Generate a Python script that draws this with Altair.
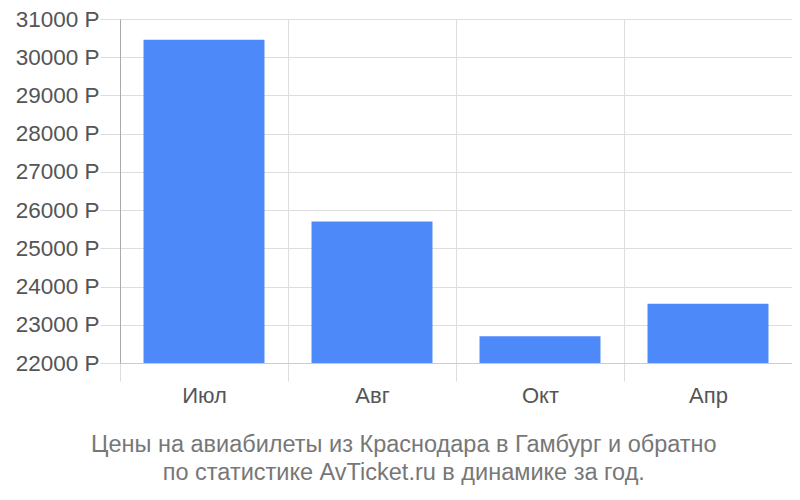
import altair as alt
import pandas as pd

months = ["Июл", "Авг", "Окт", "Апр"]
prices = [30460, 25700, 22700, 23550]
y_ticks = [22000, 23000, 24000, 25000, 26000, 27000, 28000, 29000, 30000, 31000]
title_lines = ["Цены на авиабилеты из Краснодара в Гамбург и обратно",
               "по статистике AvTicket.ru в динамике за год."]

df = pd.DataFrame({"month": months, "price": prices})

FONT = "Liberation Sans"

chart = alt.Chart(df).mark_bar(color="#4d89f9", width={"band": 0.72}).encode(
    x=alt.X("month:N", sort=months, title=None,
            scale=alt.Scale(paddingInner=0, paddingOuter=0),
            axis=alt.Axis(tickBand="extent", grid=True, gridColor="#dddddd",
                          tickColor="#dddddd", tickSize=18, domainColor="#cccccc",
                          labelAngle=0, labelFontSize=22, labelColor="#555555",
                          labelFont=FONT, labelPadding=4)),
    y=alt.Y("price:Q", title=None,
            scale=alt.Scale(domain=[22000, 31000], zero=False, nice=False),
            axis=alt.Axis(values=y_ticks, labelExpr="datum.value + ' Р'",
                          grid=True, gridColor="#dddddd", tickColor="#dddddd",
                          tickSize=20, domain=True, domainColor="#aaaaaa",
                          labelFontSize=22.5, labelColor="#555555", labelFont=FONT,
                          labelPadding=1)),
    y2=alt.datum(22000),
).properties(
    width=672, height=344,
    title=alt.TitleParams(text=title_lines, orient="bottom", anchor="middle",
                          frame="bounds",
                          fontSize=23.5, font=FONT, fontWeight="normal",
                          color="#777777", lineHeight=28, offset=27),
    autosize=alt.AutoSizeParams(type="none"),
    padding={"left": 112, "top": 11, "right": 0, "bottom": 129},
).configure_view(stroke=None)

chart.save("out.html", embed_options={"renderer": "svg", "actions": False})
